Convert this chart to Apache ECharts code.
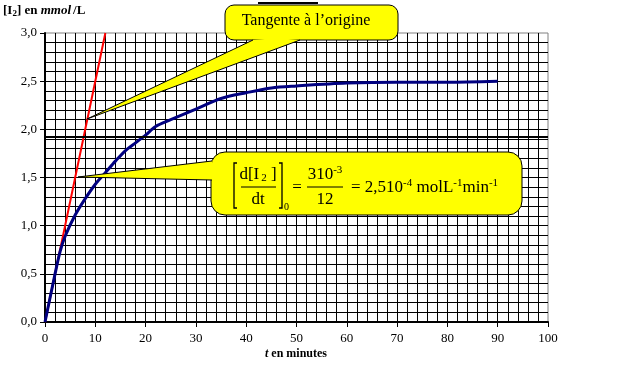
<!DOCTYPE html>
<html><head><meta charset="utf-8">
<script src="https://cdn.jsdelivr.net/npm/echarts@6/dist/echarts.min.js"></script>
<style>html,body{margin:0;padding:0;background:#fff}#c{width:626px;height:365px}</style>
</head><body><div id="c"></div>
<script>
// Data
const times = [0, 2, 3, 4, 6, 8, 10, 12, 14, 16, 18, 20, 22, 25, 30, 35, 40, 45, 50, 60, 70, 80, 90];
const concI2 = [0, 0.50, 0.73, 0.89, 1.11, 1.28, 1.43, 1.55, 1.67, 1.78, 1.86, 1.94, 2.03, 2.10, 2.21, 2.32, 2.38, 2.43, 2.45, 2.48, 2.49, 2.49, 2.50];
const tangentT = [0, 12];
const tangentC = [0, 3.0];
const refLineY = 1.92;
const yTitle = ['[I', '2', '] en ', 'mmol', '/L'];
const xTitle = ['t', ' en minutes'];
const callout1Text = 'Tangente à l’origine';

const serif = '"Liberation Serif","Times New Roman",serif';
const chart = echarts.init(document.getElementById('c'), null, {renderer: 'canvas'});

const curve = times.map((t, i) => [t, concI2[i]]);
const tangent = tangentT.map((t, i) => [t, tangentC[i]]);

const Y = '#FFFF00';
function tail(tip, b1, b2, inset) {
  return [
    {type: 'polygon', z: 10, shape: {points: [tip, b1, inset[0], inset[1], b2]}, style: {fill: Y, stroke: null}},
    {type: 'polyline', z: 11, shape: {points: [b1, tip, b2]}, style: {stroke: '#000', lineWidth: 1, fill: null}}
  ];
}

const supStyle = {fontSize: 11, fontFamily: serif, fill: '#000', padding: [0, 0, 9, 0]};
const mainStyle = {fontSize: 17, fontFamily: serif, fill: '#000'};

chart.setOption({
  animation: false,
  backgroundColor: '#fff',
  grid: {left: 45, right: 78, top: 33, bottom: 43, show: true, borderColor: '#808080', borderWidth: 1, backgroundColor: 'transparent'},
  xAxis: {
    type: 'value', min: 0, max: 100, interval: 10,
    axisLine: {show: true, onZero: false, lineStyle: {color: '#000', width: 2}},
    axisTick: {show: true, inside: false, length: 5, lineStyle: {color: '#000', width: 1}},
    axisLabel: {color: '#000', fontFamily: serif, fontSize: 13, margin: 10},
    splitLine: {show: true, showMaxLine: false, lineStyle: {color: '#000', width: 1}},
    minorTick: {show: false, splitNumber: 5},
    minorSplitLine: {show: true, lineStyle: {color: '#000', width: 1}}
  },
  yAxis: {
    type: 'value', min: 0, max: 3, interval: 0.5,
    axisLine: {show: true, onZero: false, lineStyle: {color: '#000', width: 2}},
    axisTick: {show: true, inside: false, length: 5, lineStyle: {color: '#000', width: 1}},
    axisLabel: {color: '#000', fontFamily: serif, fontSize: 13, margin: 8,
      formatter: v => v.toFixed(1).replace('.', ',')},
    splitLine: {show: true, showMaxLine: false, lineStyle: {color: '#000', width: 1}},
    minorTick: {show: false, splitNumber: 5},
    minorSplitLine: {show: true, lineStyle: {color: '#000', width: 1}}
  },
  series: [
    {type: 'line', data: tangent, symbol: 'none', z: 3, lineStyle: {color: '#FF0000', width: 2}},
    {type: 'line', data: curve, symbol: 'none', smooth: 0.3, z: 4, lineStyle: {color: '#000080', width: 3},
      markLine: {symbol: 'none', silent: true, label: {show: false},
        lineStyle: {color: '#000', width: 2, type: 'solid'}, data: [{yAxis: refLineY}]}}
  ],
  graphic: [
    // y-axis title
    {type: 'text', left: 3, top: 4, z: 20, style: {
      text: '{b|' + yTitle[0] + '}{s|' + yTitle[1] + '}{b|' + yTitle[2] + '}{i|' + yTitle[3] + '}{b|' + yTitle[4] + '}',
      rich: {
        b: {fontFamily: serif, fontSize: 13, fontWeight: 'bold', fill: '#000'},
        s: {fontFamily: serif, fontSize: 9, fontWeight: 'bold', fill: '#000', padding: [6, 0, 0, 0]},
        i: {fontFamily: serif, fontSize: 13, fontWeight: 'bold', fontStyle: 'italic', fill: '#000', padding: [0, 2, 0, 0]}
      }}},
    // x-axis title
    {type: 'text', x: 296, y: 354, z: 20, style: {
      text: '{i|' + xTitle[0] + '}{b|' + xTitle[1] + '}', align: 'center', verticalAlign: 'middle',
      rich: {
        b: {fontFamily: serif, fontSize: 12, fontWeight: 'bold', fill: '#000'},
        i: {fontFamily: serif, fontSize: 12, fontWeight: 'bold', fontStyle: 'italic', fill: '#000'}
      }}},
    // callout 1
    {type: 'rect', z: 9, shape: {x: 225, y: 5, width: 173, height: 35, r: 9}, style: {fill: Y, stroke: '#000', lineWidth: 1}},
    ...tail([87, 119], [253, 40], [300, 40], [[300, 36], [253, 36]]),
    {type: 'line', z: 12, shape: {x1: 258, y1: 3, x2: 318, y2: 3}, style: {stroke: '#000', lineWidth: 2}},
    {type: 'text', x: 306, y: 21, z: 12, style: {text: callout1Text, fontFamily: serif, fontSize: 16, fill: '#000', align: 'center', verticalAlign: 'middle'}},
    // callout 2
    {type: 'rect', z: 9, shape: {x: 211, y: 152, width: 311, height: 63, r: 14}, style: {fill: Y, stroke: '#000', lineWidth: 1}},
    ...tail([78, 177], [212, 161], [212, 180], [[216, 180], [216, 161]]),
    // brackets
    {type: 'polyline', z: 12, shape: {points: [[237, 163], [234, 163], [234, 208], [237, 208]]}, style: {stroke: '#000', lineWidth: 1.3, fill: null}},
    {type: 'polyline', z: 12, shape: {points: [[279, 163], [282, 163], [282, 208], [279, 208]]}, style: {stroke: '#000', lineWidth: 1.3, fill: null}},
    {type: 'text', x: 284, y: 207, z: 12, style: {text: '0', fontFamily: serif, fontSize: 10, fill: '#000', align: 'left', verticalAlign: 'middle'}},
    {type: 'text', x: 258, y: 175, z: 12, style: {text: '{m|d[I}{s|2}{m| ]}', align: 'center', verticalAlign: 'middle',
      rich: {m: mainStyle, s: {fontSize: 11, fontFamily: serif, fill: '#000', padding: [7, 0, 0, 2]}}}},
    {type: 'line', z: 12, shape: {x1: 241, y1: 187, x2: 276, y2: 187}, style: {stroke: '#000', lineWidth: 1}},
    {type: 'text', x: 258, y: 200, z: 12, style: {text: 'dt', fontFamily: serif, fontSize: 17, fill: '#000', align: 'center', verticalAlign: 'middle'}},
    {type: 'text', x: 297, y: 188, z: 12, style: {text: '=', fontFamily: serif, fontSize: 17, fill: '#000', align: 'center', verticalAlign: 'middle'}},
    {type: 'text', x: 325, y: 175, z: 12, style: {text: '{m|310}{p|-3}', align: 'center', verticalAlign: 'middle',
      rich: {m: mainStyle, p: supStyle}}},
    {type: 'line', z: 12, shape: {x1: 307, y1: 187, x2: 343, y2: 187}, style: {stroke: '#000', lineWidth: 1}},
    {type: 'text', x: 325, y: 200, z: 12, style: {text: '12', fontFamily: serif, fontSize: 17, fill: '#000', align: 'center', verticalAlign: 'middle'}},
    {type: 'text', x: 351, y: 188, z: 12, style: {text: '{m|= 2,510}{p|-4}{m| molL}{p|-1}{m|min}{p|-1}', align: 'left', verticalAlign: 'middle',
      rich: {m: mainStyle, p: supStyle}}}
  ]
});
</script></body></html>
